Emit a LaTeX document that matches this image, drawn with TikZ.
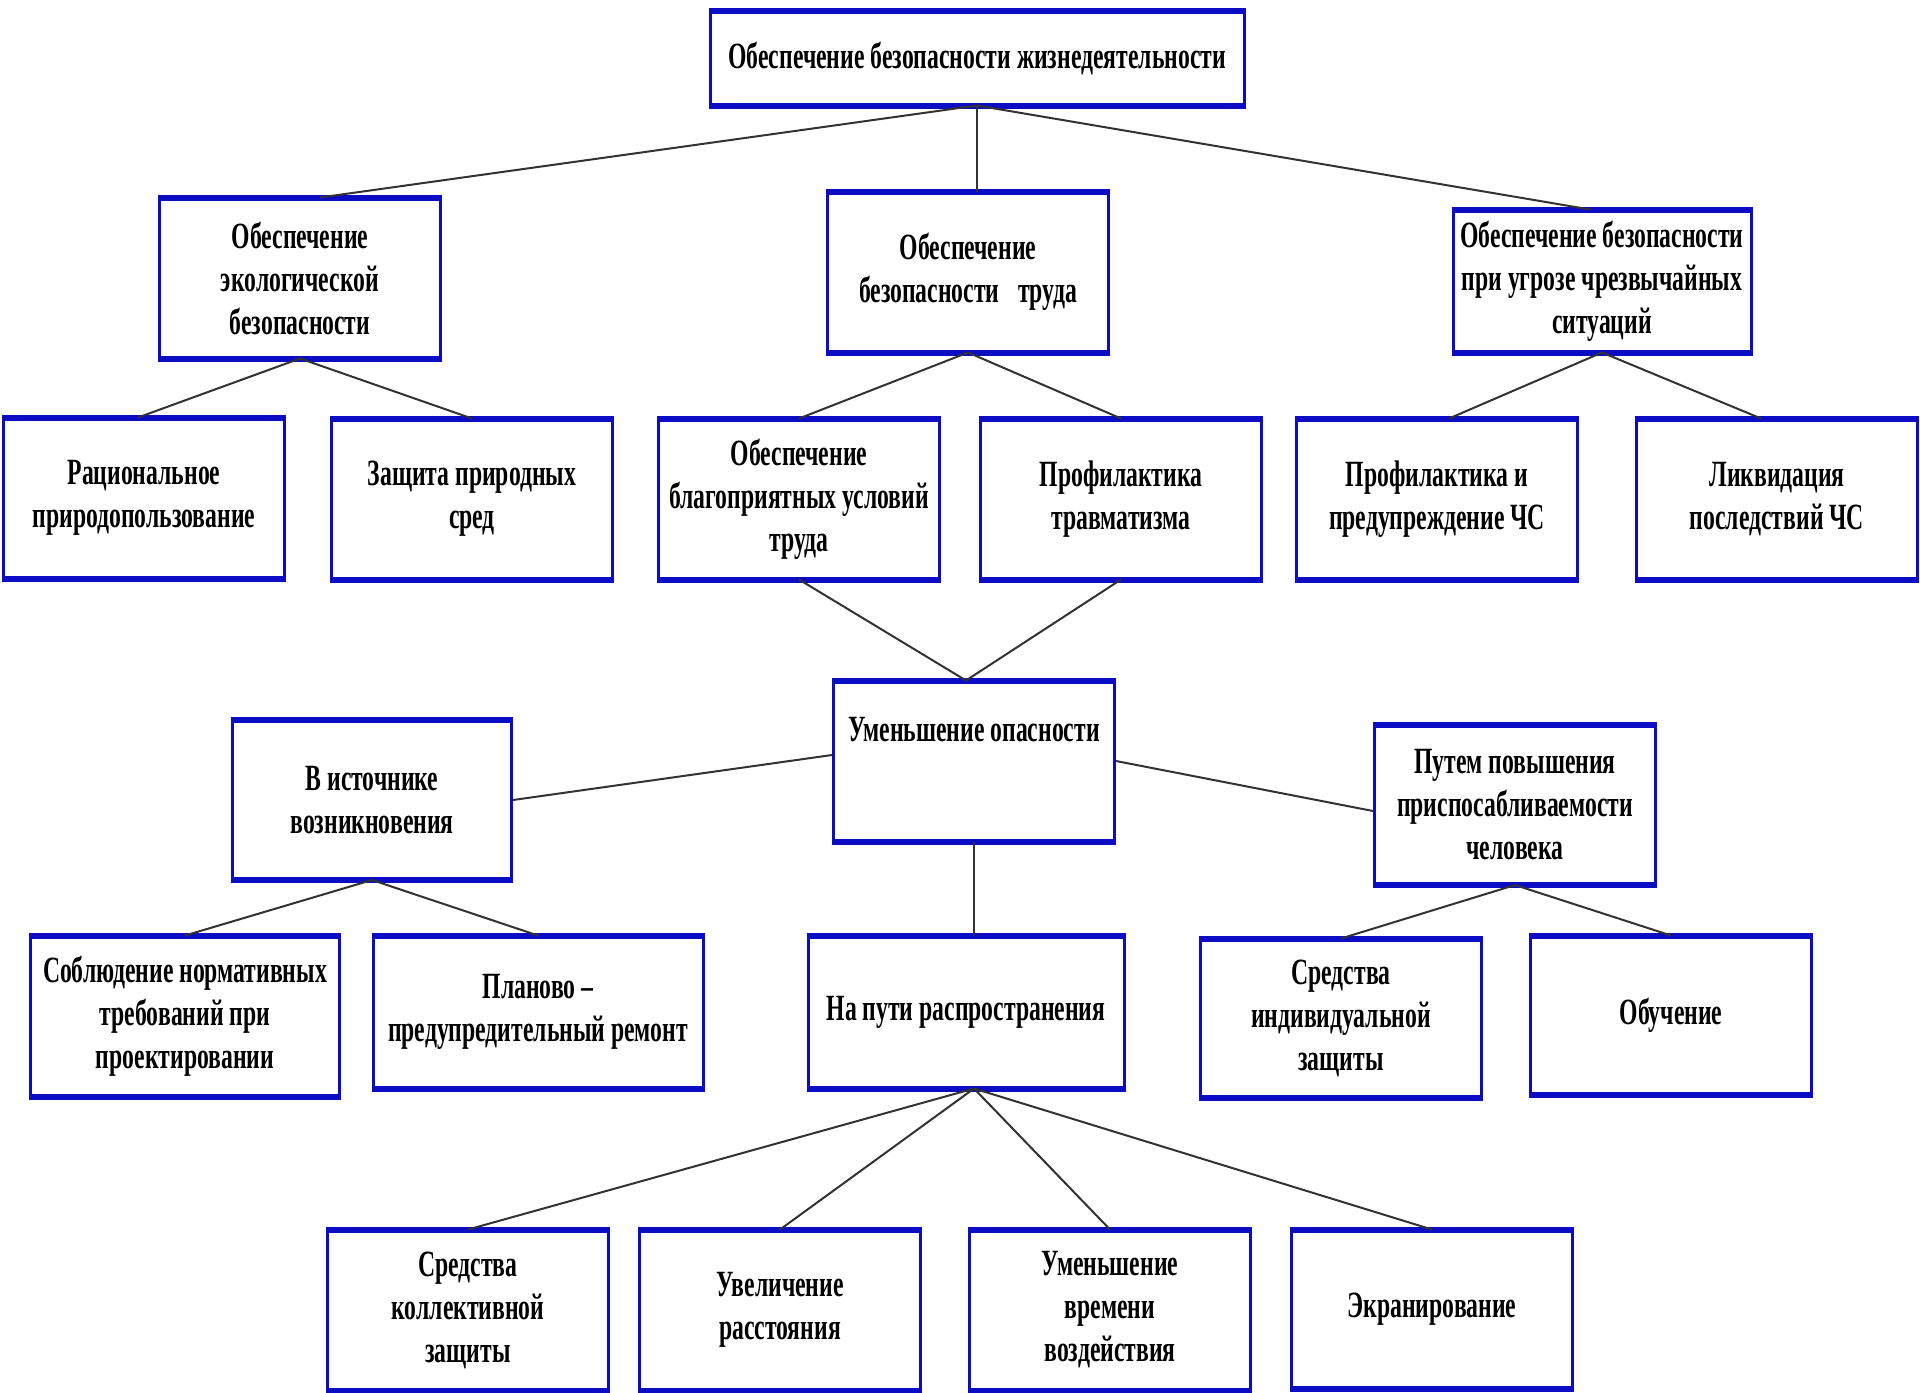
\documentclass[tikz,border=0pt]{standalone}
\usepackage{fontspec}
\setmainfont{Liberation Serif}[FakeStretch=0.64]
\usepackage{tikz}

\definecolor{ramka}{RGB}{12,12,196}
\definecolor{liniya}{RGB}{50,50,50}
\tikzset{
  blok/.style={draw=ramka,line width=1.5pt,fill=white,minimum width=140.5pt,
    minimum height=79pt,align=center,inner sep=2pt,
    font=\bfseries\fontsize{18.5}{21.5}\selectfont},
  svyaz/.style={draw=liniya,line width=1pt}
}

\begin{document}
\begin{tikzpicture}[x=0.5pt,y=-0.5pt]
  \useasboundingbox (0,0) rectangle (1920,1392);
  % верхний уровень
  \node[blok,minimum width=267pt,minimum height=46pt] (bzhd) at (977,58) {Обеспечение безопасности жизнедеятельности};
  \node[blok] (eko) at (300,278) {Обеспечение\\экологической\\безопасности};
  \node[blok] (trud) at (968,272) {Обеспечение\\безопасности\enspace труда};
  \node[blok,minimum width=149pt,minimum height=70pt] (chs) at (1602,281) {Обеспечение безопасности\\при угрозе чрезвычайных\\ситуаций};
  % второй уровень
  \node[blok] (rac) at (144,498) {Рациональное\\природопользование};
  \node[blok] (zasch) at (472,499) {Защита природных\\сред};
  \node[blok] (blag) at (799,499) {Обеспечение\\благоприятных условий\\труда};
  \node[blok] (trav) at (1121,499) {Профилактика\\травматизма};
  \node[blok] (prof) at (1437,499) {Профилактика и\\предупреждение ЧС};
  \node[blok] (likv) at (1777,499) {Ликвидация\\последствий ЧС};
  % уменьшение опасности
  \node[blok] (umen) at (974,761) {};
  \node[font=\bfseries\fontsize{18.5}{21.5}\selectfont] (umentxt) at ([yshift=-24.5pt]umen.north) {Уменьшение опасности};
  \node[blok,minimum width=139.5pt,minimum height=78.5pt] (ist) at (372,800) {В источнике\\возникновения};
  \node[blok,minimum height=78.5pt] (put) at (1515,805) {Путем повышения\\приспосабливаемости\\человека};
  % нижние уровни
  \node[blok,minimum width=154.5pt] (sobl) at (185,1016) {Соблюдение нормативных\\требований при\\проектировании};
  \node[blok,minimum width=165pt,minimum height=75pt] (plan) at (538,1012) {Планово –\\предупредительный ремонт};
  \node[blok,minimum width=158pt,minimum height=75pt] (napu) at (966,1012) {На пути распространения};
  \node[blok,minimum height=78pt] (sind) at (1341,1018) {Средства\\индивидуальной\\защиты};
  \node[blok,minimum height=78pt] (obuch) at (1671,1015) {Обучение};
  \node[blok] (skol) at (468,1310) {Средства\\коллективной\\защиты};
  \node[blok] (uvel) at (780,1310) {Увеличение\\расстояния};
  \node[blok] (uvre) at (1110,1310) {Уменьшение\\времени\\воздействия};
  \node[blok,minimum height=78pt] (ekran) at (1432,1309) {Экранирование};

  % толстые верх и низ рамок
  \foreach \n in {bzhd,eko,trud,chs,rac,zasch,blag,trav,prof,likv,umen,ist,put,sobl,plan,napu,sind,obuch,skol,uvel,uvre,ekran}{
    \draw[ramka,line width=3pt] (\n.north west) -- (\n.north east);
    \draw[ramka,line width=3pt] (\n.south west) -- (\n.south east);
  }

  \draw[svyaz] (bzhd.south) -- ([xshift=10pt]eko.north);
  \draw[svyaz] (bzhd.south) -- (bzhd.south |- trud.north);
  \draw[svyaz] (bzhd.south) -- ([xshift=-6pt]chs.north);
  \draw[svyaz] (eko.south) -- ([xshift=-3pt]rac.north);
  \draw[svyaz] (eko.south) -- (zasch.north);
  \draw[svyaz] (trud.south) -- (blag.north);
  \draw[svyaz] (trud.south) -- (trav.north);
  \draw[svyaz] (chs.south) -- ([xshift=6pt]prof.north);
  \draw[svyaz] (chs.south) -- ([xshift=-8pt]likv.north);
  \draw[svyaz] (blag.south) -- ([xshift=-4pt]umen.north);
  \draw[svyaz] (trav.south) -- ([xshift=-4pt]umen.north);
  \draw[svyaz] ([yshift=3pt]umen.west) -- (ist.east);
  \draw[svyaz] (umen.east) -- ([yshift=-3pt]put.west);
  \draw[svyaz] (umen.south) -- (umen.south |- napu.north);
  \draw[svyaz] (ist.south) -- (sobl.north);
  \draw[svyaz] (ist.south) -- (plan.north);
  \draw[svyaz] (put.south) -- (sind.north);
  \draw[svyaz] (put.south) -- (obuch.north);
  \draw[svyaz] (umen.south |- napu.south) -- (skol.north);
  \draw[svyaz] (umen.south |- napu.south) -- (uvel.north);
  \draw[svyaz] (umen.south |- napu.south) -- (uvre.north);
  \draw[svyaz] (umen.south |- napu.south) -- (ekran.north);
\end{tikzpicture}
\end{document}
